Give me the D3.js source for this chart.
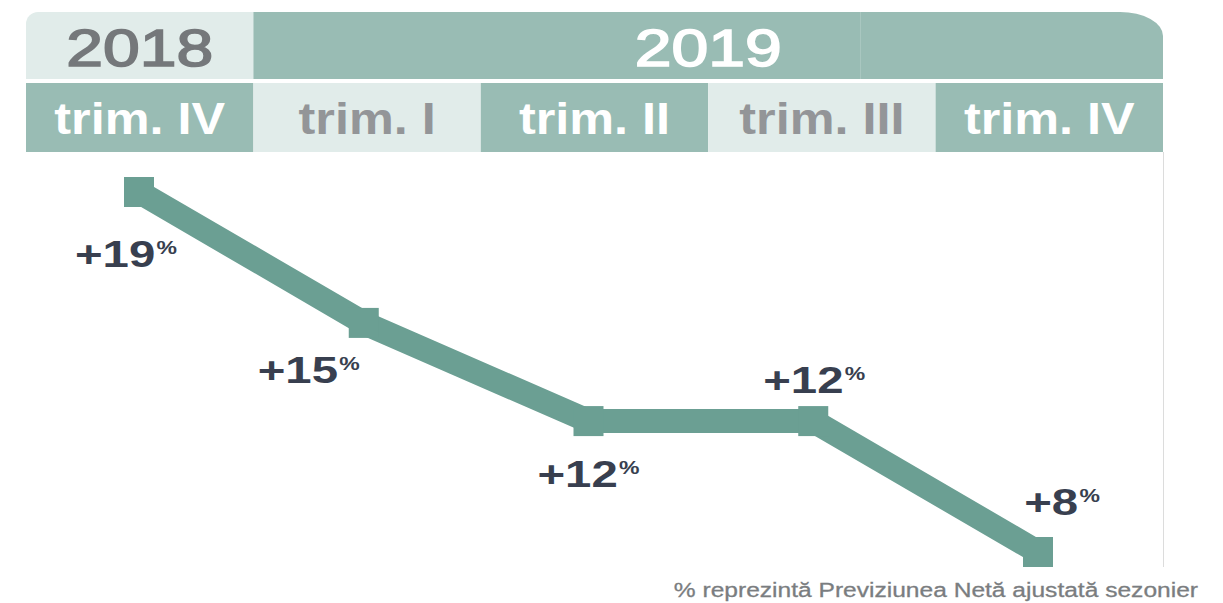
<!DOCTYPE html>
<html>
  <head>
    <title>Previziunea Netă de Angajare</title>
  </head>
  <body>
    <style>
      body, html {
        margin: 0;
        padding: 0;
        background: #fff;
      }
      svg {
        display: block;
        font-family: 'Liberation Sans', Arial, sans-serif;
      }
    </style>

    <svg id="svg" width="1223" height="603"></svg>

    <script src="https://cdn.jsdelivr.net/npm/d3@7"></script>
    <script>
      // data
      const years = ['2018', '2019'];
      const yearSpans = [1, 4];
      const quarters = ['trim. IV', 'trim. I', 'trim. II', 'trim. III', 'trim. IV'];
      const values = [19, 15, 12, 12, 8];
      const footnote = '% reprezintă Previziunea Netă ajustată sezonier';

      const dark = '#99bcb4';
      const light = '#e1ecea';
      const lineColor = '#6b9f93';
      const labelColor = '#383f4f';

      const left = 26, right = 1163;
      const colW = (right - left) / quarters.length;

      // label offsets from each marker (dx, dy to baseline)
      const labelOffsets = [[-13, 75], [-55, 60], [0, 66], [1, -28], [24, -37]];

      const svg = d3.select('#svg');

      // header shape with rounded top corners
      svg.append('clipPath')
        .attr('id', 'headClip')
        .append('path')
        .attr('d', `M${left},24 A12,12 0 0 1 ${left + 12},12 L${right - 43},12 A43,24 0 0 1 ${right},36 L${right},152 L${left},152 Z`);

      const head = svg.append('g').attr('clip-path', 'url(#headClip)');

      // year row
      let col = 0;
      years.forEach((y, i) => {
        const x0 = left + col * colW;
        const w = yearSpans[i] * colW;
        const c = i === 0 ? '#75787b' : '#fff';
        head.append('rect')
          .attr('x', x0).attr('y', 12)
          .attr('width', w).attr('height', 67)
          .attr('fill', i === 0 ? light : dark);
        head.append('text')
          .attr('transform', `translate(${x0 + w / 2},66) scale(1.27,1)`)
          .attr('text-anchor', 'middle')
          .attr('font-size', 52)
          .attr('fill', c)
          .attr('stroke', c)
          .attr('stroke-width', 1.6)
          .text(y);
        col += yearSpans[i];
      });

      // faint seam inside the 2019 block
      head.append('line')
        .attr('x1', 860.5).attr('x2', 860.5)
        .attr('y1', 12).attr('y2', 79)
        .attr('stroke', '#a9c7c0').attr('stroke-width', 1);

      // quarter row
      quarters.forEach((q, i) => {
        const x0 = left + i * colW;
        const isDark = i % 2 === 0;
        head.append('rect')
          .attr('x', x0).attr('y', 83)
          .attr('width', colW).attr('height', 69)
          .attr('fill', isDark ? dark : light);
        head.append('text')
          .attr('transform', `translate(${x0 + colW / 2},134) scale(1.12,1)`)
          .attr('text-anchor', 'middle')
          .attr('font-size', 45)
          .attr('font-weight', 'bold')
          .attr('fill', isDark ? '#fff' : '#939598')
          .text(q);
      });

      // thin right border
      svg.append('line')
        .attr('x1', right + 0.5).attr('x2', right + 0.5)
        .attr('y1', 152).attr('y2', 567)
        .attr('stroke', '#dcdcdc').attr('stroke-width', 1);

      // scales
      const xscale = d3.scalePoint()
        .domain(d3.range(values.length))
        .range([139, 1038]);

      const yscale = d3.scaleLinear()
        .domain([8, 19])
        .range([552, 192]);

      const linegen = d3.line()
        .x((d, i) => xscale(i))
        .y(d => yscale(d));

      svg.append('path')
        .attr('d', linegen(values))
        .attr('fill', 'none')
        .attr('stroke', lineColor)
        .attr('stroke-width', 24)
        .attr('stroke-linejoin', 'miter');

      svg.selectAll('.marker')
        .data(values)
        .enter()
        .append('rect')
        .attr('class', 'marker')
        .attr('x', (d, i) => xscale(i) - 15)
        .attr('y', d => yscale(d) - 15)
        .attr('width', 30)
        .attr('height', 30)
        .attr('fill', lineColor);

      // value labels
      const labels = svg.selectAll('.label')
        .data(values)
        .enter()
        .append('text')
        .attr('class', 'label')
        .attr('transform', (d, i) => `translate(${xscale(i) + labelOffsets[i][0]},${yscale(d) + labelOffsets[i][1]}) scale(1.28,1)`)
        .attr('text-anchor', 'middle')
        .attr('font-size', 37)
        .attr('font-weight', 'bold')
        .attr('fill', labelColor);

      labels.append('tspan').text(d => '+' + d);
      labels.append('tspan')
        .attr('font-size', 18)
        .attr('dy', -13)
        .attr('dx', 1)
        .text('%');

      // footnote
      svg.append('text')
        .attr('transform', 'translate(1198,597) scale(1.17,1)')
        .attr('text-anchor', 'end')
        .attr('font-size', 21)
        .attr('fill', '#7a7d80')
        .attr('stroke', '#7a7d80')
        .attr('stroke-width', 0.3)
        .text(footnote);
    </script>
  </body>
</html>
